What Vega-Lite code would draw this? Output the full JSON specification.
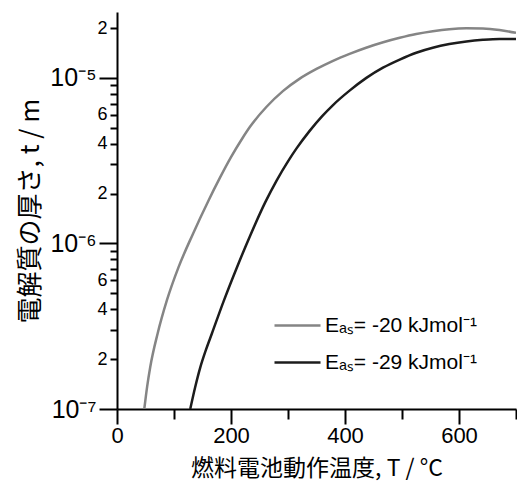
{
  "$schema": "https://vega.github.io/schema/vega-lite/v6.json",
  "autosize": "none",
  "width": 399,
  "height": 397,
  "padding": {"left": 117, "top": 12, "right": 1, "bottom": 75},
  "background": "white",
  "config": {
    "view": {"stroke": null},
    "axis": {"grid": false, "domainColor": "black", "domainWidth": 2, "tickColor": "black", "tickWidth": 2, "labelColor": "black", "labelFont": "Liberation Sans", "titleFont": "Noto Sans CJK JP", "titleColor": "black", "titleFontWeight": "normal", "titleFontSize": 26}
  },
  "data": {"values": [
    {"T": 47.9, "t": 1.0e-7, "s": "-20"},
    {"T": 53, "t": 1.374e-7, "s": "-20"},
    {"T": 58.4, "t": 1.80e-7, "s": "-20"},
    {"T": 71.3, "t": 2.86e-7, "s": "-20"},
    {"T": 87.6, "t": 4.54e-7, "s": "-20"},
    {"T": 108, "t": 7.19e-7, "s": "-20"},
    {"T": 133, "t": 1.138e-6, "s": "-20"},
    {"T": 160, "t": 1.80e-6, "s": "-20"},
    {"T": 180, "t": 2.47e-6, "s": "-20"},
    {"T": 200, "t": 3.32e-6, "s": "-20"},
    {"T": 220, "t": 4.32e-6, "s": "-20"},
    {"T": 233, "t": 5.05e-6, "s": "-20"},
    {"T": 262, "t": 6.668e-6, "s": "-20"},
    {"T": 291, "t": 8.318e-6, "s": "-20"},
    {"T": 320, "t": 9.863e-6, "s": "-20"},
    {"T": 350, "t": 1.132e-5, "s": "-20"},
    {"T": 379, "t": 1.268e-5, "s": "-20"},
    {"T": 408, "t": 1.396e-5, "s": "-20"},
    {"T": 437, "t": 1.521e-5, "s": "-20"},
    {"T": 467, "t": 1.641e-5, "s": "-20"},
    {"T": 496, "t": 1.746e-5, "s": "-20"},
    {"T": 525, "t": 1.841e-5, "s": "-20"},
    {"T": 554, "t": 1.914e-5, "s": "-20"},
    {"T": 583, "t": 1.968e-5, "s": "-20"},
    {"T": 613, "t": 1.991e-5, "s": "-20"},
    {"T": 642, "t": 1.986e-5, "s": "-20"},
    {"T": 671, "t": 1.945e-5, "s": "-20"},
    {"T": 700, "t": 1.871e-5, "s": "-20"},
    {"T": 128.5, "t": 1.0e-7, "s": "-29"},
    {"T": 137, "t": 1.349e-7, "s": "-29"},
    {"T": 146, "t": 1.778e-7, "s": "-29"},
    {"T": 156, "t": 2.275e-7, "s": "-29"},
    {"T": 166.5, "t": 2.858e-7, "s": "-29"},
    {"T": 187, "t": 4.467e-7, "s": "-29"},
    {"T": 210, "t": 7.11e-7, "s": "-29"},
    {"T": 233.6, "t": 1.114e-6, "s": "-29"},
    {"T": 260, "t": 1.770e-6, "s": "-29"},
    {"T": 280, "t": 2.399e-6, "s": "-29"},
    {"T": 300, "t": 3.133e-6, "s": "-29"},
    {"T": 315, "t": 3.750e-6, "s": "-29"},
    {"T": 338, "t": 4.786e-6, "s": "-29"},
    {"T": 360, "t": 5.875e-6, "s": "-29"},
    {"T": 379, "t": 6.855e-6, "s": "-29"},
    {"T": 408, "t": 8.375e-6, "s": "-29"},
    {"T": 437.5, "t": 1.0e-5, "s": "-29"},
    {"T": 466.6, "t": 1.153e-5, "s": "-29"},
    {"T": 496, "t": 1.291e-5, "s": "-29"},
    {"T": 525, "t": 1.419e-5, "s": "-29"},
    {"T": 554, "t": 1.521e-5, "s": "-29"},
    {"T": 583, "t": 1.600e-5, "s": "-29"},
    {"T": 613, "t": 1.660e-5, "s": "-29"},
    {"T": 642, "t": 1.698e-5, "s": "-29"},
    {"T": 671, "t": 1.718e-5, "s": "-29"},
    {"T": 700, "t": 1.718e-5, "s": "-29"}
  ]},
  "mark": {"type": "line", "strokeWidth": 2.5, "interpolate": "monotone", "clip": true},
  "encoding": {
    "x": {"field": "T", "type": "quantitative",
      "scale": {"domain": [0, 700], "nice": false, "zero": false},
      "axis": {"values": [0, 100, 200, 300, 400, 500, 600, 700],
        "labelExpr": "datum.value % 200 == 0 ? datum.label : ''",
        "labelFontSize": 22, "labelPadding": 1, "labelFlush": false,
        "tickSize": {"condition": {"test": "datum.value % 200 == 0", "value": 15}, "value": 10},
        "title": "燃料電池動作温度, T / °C", "titleFontSize": 23, "titlePadding": 11}},
    "y": {"field": "t", "type": "quantitative",
      "scale": {"type": "log", "domain": [1e-7, 2.5e-5], "nice": false},
      "axis": {"values": [1e-7, 2e-7, 3e-7, 4e-7, 5e-7, 6e-7, 7e-7, 8e-7, 9e-7, 1e-6, 2e-6, 3e-6, 4e-6, 5e-6, 6e-6, 7e-6, 8e-6, 9e-6, 1e-5, 2e-5],
        "labelExpr": "datum.value==1e-5?'10⁻⁵':datum.value==1e-6?'10⁻⁶':datum.value==1e-7?'10⁻⁷':(datum.value==2e-5||datum.value==2e-6||datum.value==2e-7)?'2':(datum.value==4e-6||datum.value==4e-7)?'4':(datum.value==6e-6||datum.value==6e-7)?'6':''",
        "labelFontSize": {"condition": {"test": "datum.value==1e-5||datum.value==1e-6||datum.value==1e-7", "value": 25}, "value": 18},
        "tickSize": {"condition": {"test": "datum.value==1e-5||datum.value==1e-6||datum.value==1e-7", "value": 18}, "value": 7},
        "labelPadding": 3, "labelFlush": false, "labelOverlap": false,
        "title": "電解質の厚さ, t / m", "titlePadding": 6}},
    "color": {"field": "s", "type": "nominal",
      "scale": {"domain": ["-20", "-29"], "range": ["#858585", "#1c1c1c"]},
      "legend": {"orient": "none", "legendX": 156, "legendY": 289, "title": null,
        "symbolType": "stroke", "symbolSize": 2116, "symbolStrokeWidth": 2.5, "symbolOffset": 0,
        "labelExpr": "'Eₐₛ= ' + datum.label + ' kJmol⁻¹'",
        "labelFont": "Liberation Sans", "labelFontSize": 21, "labelColor": "black", "labelOffset": 3,
        "rowPadding": 2}}
  }
}
